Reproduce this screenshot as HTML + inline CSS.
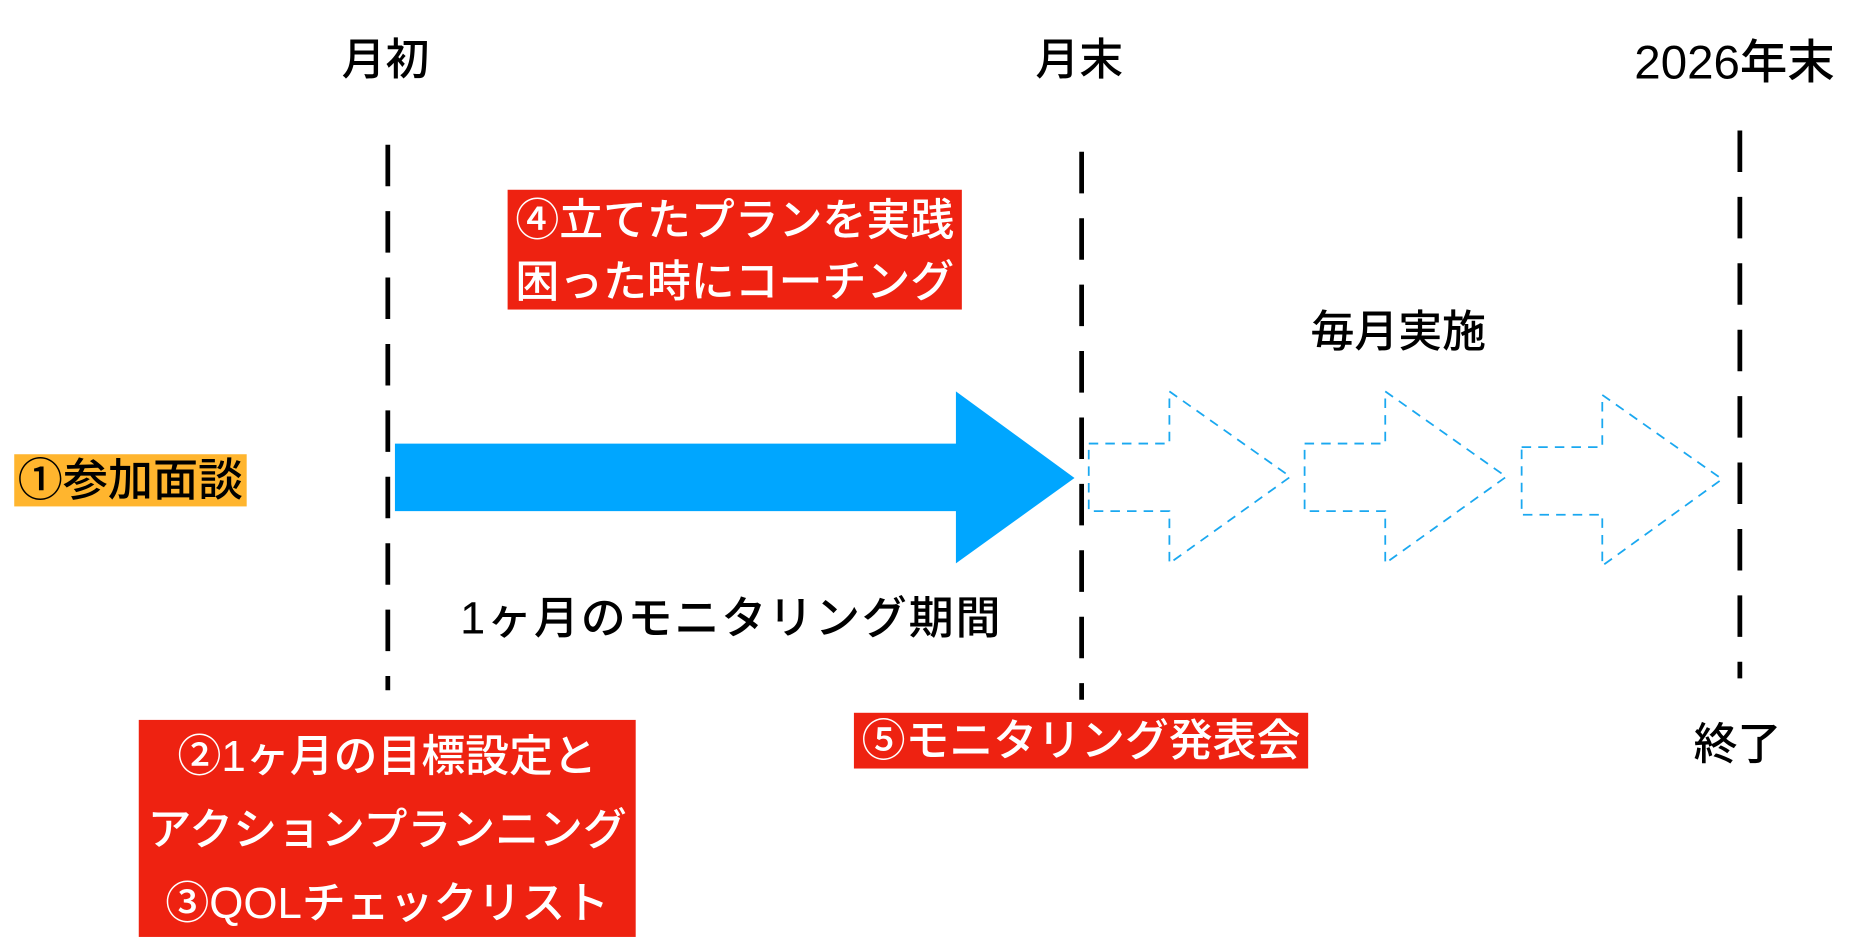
<!DOCTYPE html>
<html><head><meta charset="utf-8"><style>
html,body{margin:0;padding:0;background:#fff;width:1860px;height:952px;overflow:hidden}
#w{position:absolute;left:0;top:0;width:1568px;height:803px;transform:scale(1.186);transform-origin:0 0;font-family:"Liberation Sans","Noto Sans CJK JP",sans-serif}
.t{position:absolute;white-space:nowrap;font-size:37px;line-height:1;color:#000;font-weight:500}
.box{position:absolute;background:#ee2211;color:#fff;font-weight:500;white-space:nowrap}
</style></head><body><div id="w">
<svg width="1568" height="803" style="position:absolute;left:0;top:0">
<g stroke="#000" stroke-width="4" stroke-dasharray="35,21">
<line x1="327" y1="122" x2="327" y2="582"/>
<line x1="912" y1="128" x2="912" y2="590"/>
<line x1="1467" y1="110" x2="1467" y2="572"/>
</g>
<polygon points="333,374 806,374 806,330 906,403 806,475 806,431 333,431" fill="#00a6ff"/>
<g fill="none" stroke="#1aa8f0" stroke-width="1.5" stroke-dasharray="8,6">
<polygon points="918,374 986,374 986,330 1088,402 986,475 986,431 918,431"/>
<polygon points="1100,374 1168,374 1168,330 1270,402 1168,475 1168,431 1100,431"/>
<polygon points="1283,377 1351,377 1351,333 1452,404 1351,477 1351,434 1283,434"/>
</g>
</svg>
<div class="t" style="left:288px;top:32px">月初</div>
<div class="t" style="left:873px;top:32px">月末</div>
<div class="t" style="left:1378px;top:33px;font-size:40px">2026年末</div>
<div class="t" style="left:1105px;top:261px">毎月実施</div>
<div class="t" style="left:388px;top:503px;font-size:38px;letter-spacing:1.5px">1ヶ月のモニタリング期間</div>
<div class="t" style="left:1428px;top:609px">終了</div>
<div class="t" style="left:12px;top:383px;width:196px;height:44px;background:#ffb52e;line-height:46px;font-size:38px;text-align:center">①参加面談</div>
<div class="box" style="left:428px;top:160px;width:383px;height:101px;font-size:37px;line-height:52px;text-align:center">④立てたプランを実践<br>困った時にコーチング</div>
<div class="box" style="left:117px;top:607px;width:419px;height:183px;font-size:37px;line-height:62px;text-align:center;box-sizing:border-box">②1ヶ月の目標設定と<br>アクションプランニング<br>③QOLチェックリスト</div>
<div class="box" style="left:720px;top:601px;width:383px;height:47px;font-size:37px;line-height:48px;text-align:center">⑤モニタリング発表会</div>
</div></body></html>
